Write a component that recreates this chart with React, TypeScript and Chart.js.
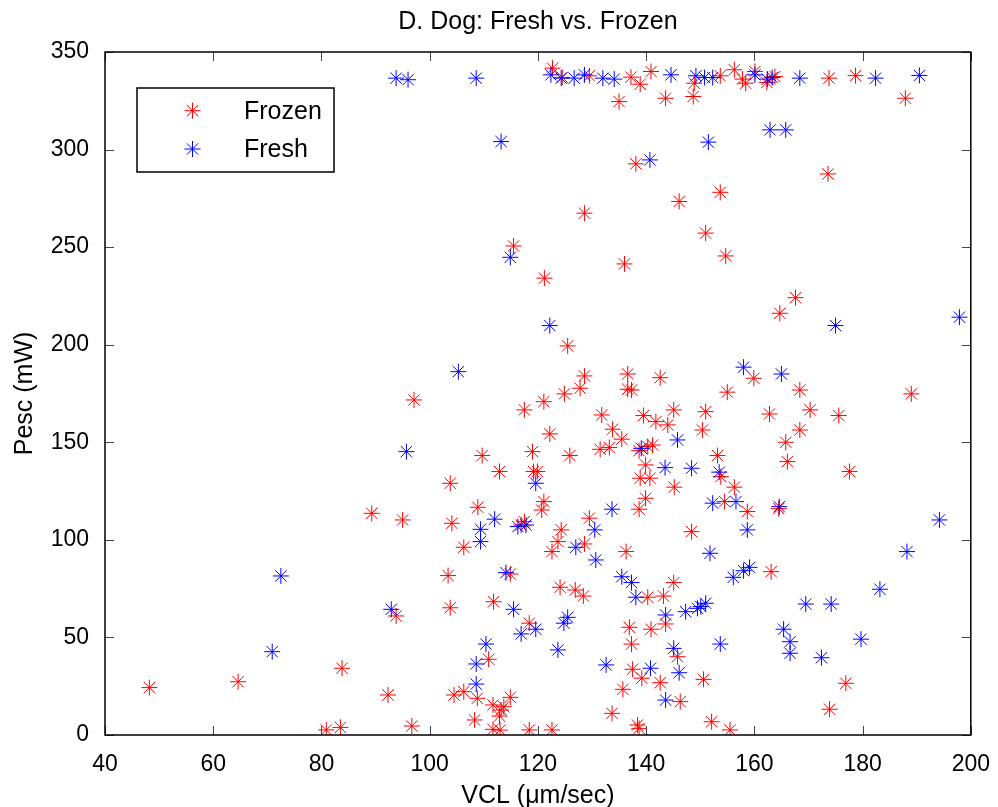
import React, { useEffect, useRef } from "react";
import { Chart, registerables } from "chart.js";

Chart.register(...registerables);

const TITLE = "D. Dog: Fresh vs. Frozen";
const X_LABEL = "VCL (\u03bcm/sec)";
const Y_LABEL = "Pesc (mW)";
const SERIES_NAMES = ["Frozen", "Fresh"];
const SERIES_COLORS = ["#ff0000", "#0000ff"];
const X_TICKS = [40, 60, 80, 100, 120, 140, 160, 180, 200];
const Y_TICKS = [0, 50, 100, 150, 200, 250, 300, 350];

const frozenVCL = [
  122.7, 124.5, 129.5, 137.2, 138.9, 140.9, 135.0, 143.6, 148.9, 148.7, 153.7, 156.3, 157.8, 158.4, 160.1, 162.3, 163.8, 173.8, 178.7, 187.9,
  138.1, 146.1, 128.6, 115.5, 136.0, 121.2, 173.6, 153.7, 151.0, 154.7,
  125.5, 128.6, 127.8, 124.9, 121.1, 117.5, 97.1, 136.6, 136.6, 137.3, 142.6, 145.1, 131.8, 139.5, 141.8, 144.0, 133.8, 135.5, 122.2,
  109.7, 119.0, 125.9, 131.5, 133.2, 138.7, 140.3, 141.2, 139.9, 112.9, 119.2, 119.9, 103.8, 138.9, 140.7, 145.2, 139.9, 121.1, 108.9, 120.7, 138.7,
  167.6, 164.7, 159.9, 155.0, 168.4, 189.0, 151.0, 162.8, 170.3, 175.6, 150.4, 168.4, 165.8, 153.2, 166.1, 177.6, 153.8, 156.3, 154.5, 164.5, 158.7,
  95.0, 104.1, 106.3, 116.9, 117.5, 124.3, 123.7, 122.6, 129.5, 128.6, 136.3, 103.4, 114.9, 124.1, 126.9, 128.4, 140.3, 143.2, 145.1,
  103.8, 111.8, 93.8, 118.4, 143.6, 136.9, 140.9, 137.3, 110.9, 145.8, 137.5, 139.2, 142.6, 135.7, 146.3,
  92.3, 104.5, 106.3, 108.8, 114.9, 111.7, 113.2, 113.7, 112.9, 108.3, 133.7, 96.7, 111.7, 113.0, 118.4, 122.6, 138.4, 138.7,
  89.3, 83.8, 64.6, 48.2, 80.9, 83.5,
  148.4, 163.1, 150.6, 176.9, 173.9, 152.1, 155.5,
];
const frozenPesc = [
  341.7, 337.0, 337.8, 337.1, 333.5, 340.0, 324.6, 326.3, 334.0, 327.2, 337.8, 340.9, 336.1, 334.0, 340.0, 334.4, 337.4, 336.6, 337.9, 326.3,
  292.7, 273.4, 267.4, 250.6, 241.4, 234.1, 287.5, 278.1, 257.2, 245.5,
  199.4, 184.0, 177.7, 174.8, 170.8, 166.6, 171.7, 185.0, 177.2, 176.8, 183.1, 166.6, 164.0, 163.7, 160.6, 158.9, 156.7, 151.6, 154.3,
  143.2, 145.2, 143.2, 146.4, 147.3, 145.7, 147.8, 148.6, 138.4, 135.0, 135.0, 135.0, 129.0, 131.6, 131.6, 127.0, 121.3, 119.6, 116.7, 115.3, 115.7,
  224.1, 216.1, 182.8, 175.7, 176.8, 174.8, 165.7, 164.5, 166.6, 163.7, 156.3, 156.3, 150.0, 143.2, 140.1, 135.0, 132.4, 127.0, 119.6, 116.0, 114.5,
  110.2, 108.5, 96.2, 107.6, 109.3, 105.1, 99.1, 94.0, 111.1, 97.9, 94.0, 81.7, 82.5, 75.7, 74.3, 71.2, 70.6, 71.2, 78.1,
  65.2, 68.3, 61.0, 57.3, 56.9, 55.2, 54.2, 46.6, 38.8, 40.1, 33.7, 29.1, 26.8, 23.4, 17.1,
  20.5, 20.5, 22.2, 18.8, 19.3, 15.4, 12.8, 14.5, 9.7, 7.7, 11.1, 4.6, 2.9, 2.5, 2.6, 2.6, 5.1, 3.4,
  113.6, 34.2, 27.3, 24.3, 2.6, 3.9,
  104.2, 83.7, 28.5, 26.5, 13.2, 6.8, 2.6,
];

const freshVCL = [
  93.8, 96.0, 108.6, 122.4, 124.3, 126.7, 128.6, 132.0, 134.1, 144.6, 149.2, 150.8, 152.3, 160.1, 162.4, 163.3, 168.4, 182.4, 190.5,
  113.2, 140.7, 114.9, 162.9, 165.8, 151.5,
  122.2, 105.3, 145.8, 95.7, 139.1, 143.5, 119.6, 133.7,
  175.0, 197.9, 158.0, 165.0, 148.4, 153.5, 152.3, 156.6, 164.6,
  109.4, 112.0, 109.4, 116.3, 117.8, 130.5, 127.0, 130.7, 114.1, 135.5, 137.3, 138.1, 115.5, 92.9, 125.5, 124.8, 119.6, 116.9, 143.6,
  123.7, 110.4, 108.6, 132.6, 145.1, 146.1, 140.8, 108.6, 143.6,
  72.5, 70.9,
  158.7, 151.8, 156.1, 158.0, 159.1, 147.3, 149.5, 150.1, 151.0, 169.5, 174.2, 183.2, 188.2, 194.2, 165.4, 166.6, 166.6, 179.7, 172.4, 153.7,
];
const freshPesc = [
  336.6, 335.8, 336.6, 338.3, 336.6, 336.6, 338.3, 336.6, 336.1, 338.3, 337.8, 336.9, 336.9, 338.3, 336.1, 336.9, 336.6, 336.6, 338.0,
  304.1, 294.7, 244.8, 310.1, 310.1, 303.8,
  209.8, 186.2, 151.2, 145.2, 146.9, 137.0, 129.0, 115.7,
  209.8, 214.1, 188.5, 185.0, 136.7, 134.7, 118.8, 119.6, 117.0,
  105.4, 110.6, 99.1, 106.8, 107.6, 105.1, 96.2, 89.7, 83.2, 81.1, 78.1, 70.6, 64.4, 64.4, 60.3, 57.3, 54.2, 51.8, 61.5,
  43.6, 46.6, 36.4, 35.9, 44.4, 31.9, 34.2, 26.1, 17.9,
  81.5, 42.7,
  105.1, 93.1, 80.8, 84.2, 85.9, 63.2, 64.9, 65.8, 67.5, 67.1, 67.1, 74.7, 94.0, 110.2, 54.2, 47.8, 41.9, 49.1, 39.6, 46.6,
];

const FONT = "'Liberation Sans', Arial, Helvetica, sans-serif";

function toPoints(xs: number[], ys: number[]) {
  return xs.map((x, i) => ({ x, y: ys[i] }));
}

function drawStar(ctx: CanvasRenderingContext2D, x: number, y: number, r: number) {
  const d = r * Math.SQRT1_2;
  ctx.beginPath();
  ctx.moveTo(x - r, y);
  ctx.lineTo(x + r, y);
  ctx.moveTo(x, y - r);
  ctx.lineTo(x, y + r);
  ctx.moveTo(x - d, y - d);
  ctx.lineTo(x + d, y + d);
  ctx.moveTo(x - d, y + d);
  ctx.lineTo(x + d, y - d);
  ctx.stroke();
}

const boxPlugin = {
  id: "matlabBox",
  afterDraw(chart: any) {
    const { ctx, chartArea: a, scales } = chart;
    ctx.save();
    // inward ticks
    ctx.strokeStyle = "#444";
    ctx.lineWidth = 1;
    const tl = 9;
    ctx.beginPath();
    X_TICKS.forEach((v) => {
      const px = Math.round(scales.x.getPixelForValue(v)) + 0.5;
      ctx.moveTo(px, a.bottom);
      ctx.lineTo(px, a.bottom - tl);
      ctx.moveTo(px, a.top);
      ctx.lineTo(px, a.top + tl);
    });
    Y_TICKS.forEach((v) => {
      const py = Math.round(scales.y.getPixelForValue(v)) + 0.5;
      ctx.moveTo(a.left, py);
      ctx.lineTo(a.left + tl, py);
      ctx.moveTo(a.right, py);
      ctx.lineTo(a.right - tl, py);
    });
    ctx.stroke();
    // box
    ctx.strokeStyle = "#000";
    ctx.lineWidth = 1.5;
    ctx.strokeRect(a.left, a.top, a.right - a.left, a.bottom - a.top);

    // legend
    const lx = a.left + 32;
    const ly = a.top + 36;
    const lw = 197;
    const lh = 84;
    ctx.fillStyle = "#fff";
    ctx.fillRect(lx, ly, lw, lh);
    ctx.strokeStyle = "#000";
    ctx.lineWidth = 1.5;
    ctx.strokeRect(lx, ly, lw, lh);
    const rows = [ly + 22.7, ly + 61];
    SERIES_NAMES.forEach((name, i) => {
      ctx.strokeStyle = SERIES_COLORS[i];
      ctx.lineWidth = 1;
      drawStar(ctx, lx + 55.5, rows[i], 8);
      ctx.fillStyle = "#000";
      ctx.font = `25px ${FONT}`;
      ctx.textAlign = "left";
      ctx.textBaseline = "middle";
      ctx.fillText(name, lx + 107, rows[i] + 1);
    });
    ctx.restore();
  },
};

export default function App() {
  const ref = useRef<HTMLCanvasElement | null>(null);

  useEffect(() => {
    if (!ref.current) return;
    const chart = new Chart(ref.current, {
      type: "scatter",
      data: {
        datasets: [
          {
            label: SERIES_NAMES[0],
            data: toPoints(frozenVCL, frozenPesc),
            pointStyle: "star",
            pointRadius: 8,
            pointBorderWidth: 1,
            borderColor: SERIES_COLORS[0],
            backgroundColor: SERIES_COLORS[0],
            order: 1,
          },
          {
            label: SERIES_NAMES[1],
            data: toPoints(freshVCL, freshPesc),
            pointStyle: "star",
            pointRadius: 8,
            pointBorderWidth: 1,
            borderColor: SERIES_COLORS[1],
            backgroundColor: SERIES_COLORS[1],
            order: 0,
          },
        ],
      },
      options: {
        animation: false,
        responsive: false,
        devicePixelRatio: 1,
        events: [],
        layout: { padding: { left: 0, right: 26, top: 0, bottom: 0 } },
        plugins: {
          legend: { display: false },
          tooltip: { enabled: false },
          title: {
            display: true,
            text: TITLE,
            color: "#000",
            fullSize: false,
            font: { family: FONT, size: 25, weight: "normal" },
            padding: { top: 7, bottom: 15 },
          },
        },
        scales: {
          x: {
            type: "linear",
            min: 40,
            max: 200,
            afterBuildTicks: (scale: any) => {
              scale.ticks = X_TICKS.map((v) => ({ value: v }));
            },
            afterFit: (scale: any) => {
              scale.height = 72;
            },
            ticks: {
              color: "#000",
              font: { family: FONT, size: 23 },
              padding: 8,
              maxRotation: 0,
            },
            grid: { display: false },
            border: { display: false },
            title: {
              display: true,
              text: X_LABEL,
              color: "#000",
              font: { family: FONT, size: 25 },
              padding: { top: 0, bottom: -4 },
            },
          },
          y: {
            type: "linear",
            min: 0,
            max: 350,
            afterBuildTicks: (scale: any) => {
              scale.ticks = Y_TICKS.map((v) => ({ value: v }));
            },
            afterFit: (scale: any) => {
              scale.width = 105;
            },
            ticks: {
              color: "#000",
              font: { family: FONT, size: 23 },
              padding: 8,
            },
            grid: { display: false },
            border: { display: false },
            title: {
              display: true,
              text: Y_LABEL,
              color: "#000",
              font: { family: FONT, size: 25 },
              padding: { top: 10, bottom: 0 },
            },
          },
        },
      },
      plugins: [boxPlugin],
    } as any);
    return () => chart.destroy();
  }, []);

  return (
    <div style={{ position: "absolute", left: 0, top: 0, width: 998, height: 807, background: "#fff" }}>
      <canvas ref={ref} width={998} height={807} style={{ display: "block", width: 998, height: 807 }} />
    </div>
  );
}
